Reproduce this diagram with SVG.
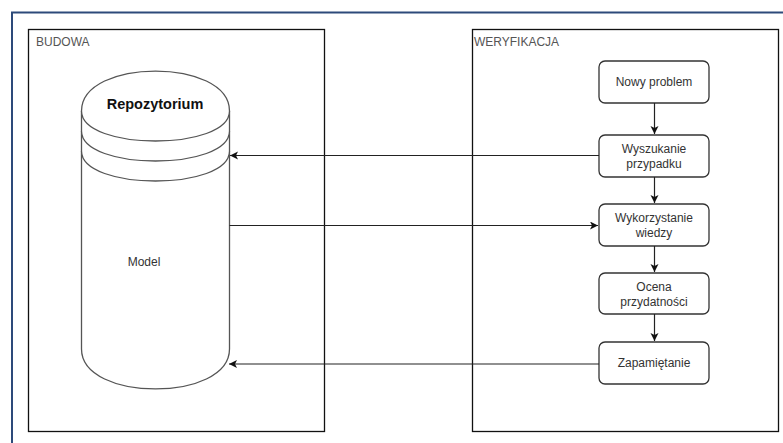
<svg xmlns="http://www.w3.org/2000/svg" width="783" height="443" viewBox="0 0 783 443">
<defs>
<style>
.frame{fill:none;stroke:#2d4a7a;stroke-width:2}
.grp{fill:#fff;stroke:#111;stroke-width:1.3}
.box{fill:#fff;stroke:#333;stroke-width:1.3}
.cyl{fill:#fff;stroke:#555;stroke-width:1.3}
.t{font-family:"Liberation Sans",Arial,sans-serif;font-size:12px;fill:#333}
.c{text-anchor:middle}
.title{font-family:"Liberation Sans",Arial,sans-serif;font-size:12px;fill:#555}
.bold{font-family:"Liberation Sans",Arial,sans-serif;font-size:14.5px;font-weight:bold;fill:#111;text-anchor:middle}
.edge{fill:none;stroke:#222;stroke-width:1.2}
</style>
<marker id="arr" markerWidth="10" markerHeight="10" refX="8" refY="4" orient="auto" markerUnits="userSpaceOnUse">
<path d="M0,0 L8,4 L0,8 L2,4 Z" fill="#111"/>
</marker>
</defs>
<rect x="0" y="0" width="783" height="443" fill="#fff"/>
<rect class="frame" x="12" y="12.5" width="790" height="450"/>

<g id="budowa">
<rect class="grp" x="28.5" y="29.5" width="296" height="402"/>
<text class="title" x="36" y="45.5">BUDOWA</text>
</g>
<g id="weryfikacja">
<rect class="grp" x="472.5" y="29.5" width="306" height="402"/>
<text class="title" x="474" y="45.5">WERYFIKACJA</text>
</g>

<g id="repozytorium">
<path class="cyl" d="M81.5,111 C81.5,57.7 229.5,57.7 229.5,111 L229.5,349 C229.5,402.3 81.5,402.3 81.5,349 Z"/>
<path class="cyl" fill="none" d="M81.5,111 C81.5,151 229.5,151 229.5,111 M81.5,131 C81.5,171 229.5,171 229.5,131 M81.5,151 C81.5,191 229.5,191 229.5,151"/>
<text class="bold" x="155" y="109">Repozytorium</text>
<text class="t c" x="144" y="266">Model</text>
</g>

<g id="nowy">
<rect class="box" x="599" y="61" width="110" height="42" rx="6"/>
<text class="t c" x="654" y="86">Nowy problem</text>
</g>
<g id="wyszukanie">
<rect class="box" x="599" y="135" width="110" height="42" rx="6"/>
<text class="t c" x="654" y="153">Wyszukanie</text>
<text class="t c" x="654" y="168">przypadku</text>
</g>
<g id="wykorzystanie">
<rect class="box" x="599" y="204" width="110" height="42" rx="6"/>
<text class="t c" x="654" y="222">Wykorzystanie</text>
<text class="t c" x="654" y="237">wiedzy</text>
</g>
<g id="ocena">
<rect class="box" x="599" y="273" width="110" height="41" rx="6"/>
<text class="t c" x="654" y="291">Ocena</text>
<text class="t c" x="654" y="306">przydatności</text>
</g>
<g id="zapamietanie">
<rect class="box" x="599" y="342" width="110" height="42" rx="6"/>
<text class="t c" x="654" y="367">Zapamiętanie</text>
</g>

<g id="connectors">
<line class="edge" x1="654.5" y1="103" x2="654.5" y2="134" marker-end="url(#arr)"/>
<line class="edge" x1="654.5" y1="177" x2="654.5" y2="203" marker-end="url(#arr)"/>
<line class="edge" x1="654.5" y1="246" x2="654.5" y2="272" marker-end="url(#arr)"/>
<line class="edge" x1="654.5" y1="314" x2="654.5" y2="341" marker-end="url(#arr)"/>
<line class="edge" x1="599" y1="155.5" x2="230" y2="155.5" marker-end="url(#arr)"/>
<line class="edge" x1="229.5" y1="225.5" x2="598" y2="225.5" marker-end="url(#arr)"/>
<line class="edge" x1="599" y1="364" x2="229" y2="364" marker-end="url(#arr)"/>
</g>
</svg>
